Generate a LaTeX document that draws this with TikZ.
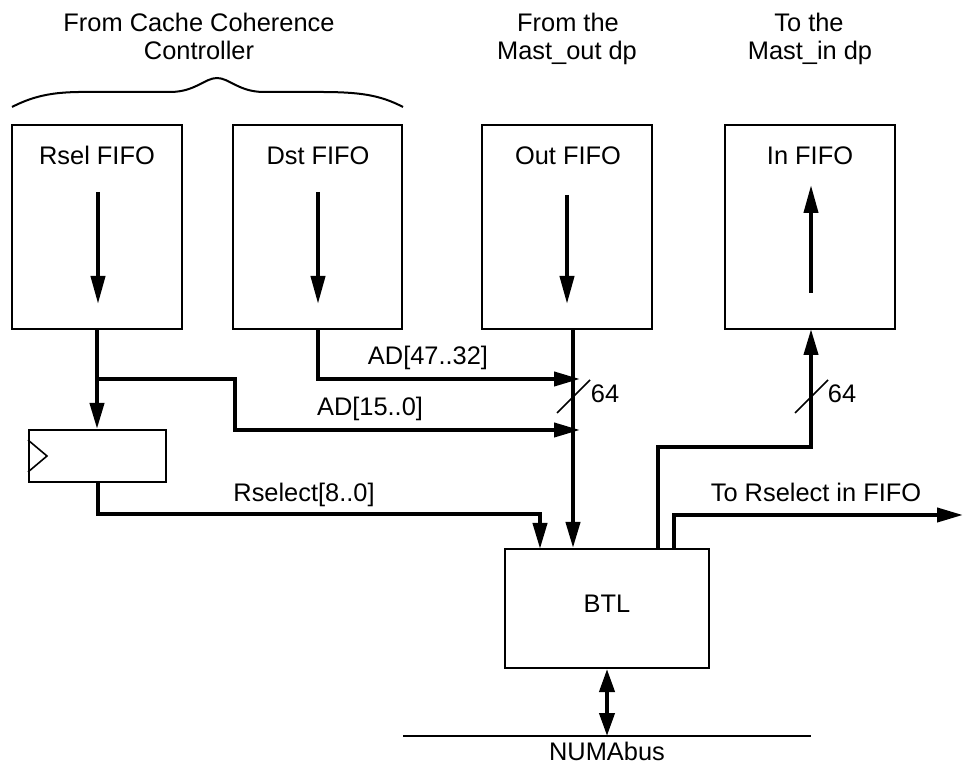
\documentclass[tikz,border=0pt]{standalone}
\usepackage{fontspec}
\setmainfont{Liberation Sans}
\usetikzlibrary{arrows.meta,fit}
\begin{document}
\begin{tikzpicture}[x=0.5pt,y=-0.5pt,
  every node/.style={font=\fontsize{12.7}{15}\selectfont},
  blockbox/.style={draw,line width=1pt,inner sep=0pt},
  txt/.style={anchor=base,inner sep=0pt},
  flow/.style={line width=2pt,-{Triangle[length=13pt,width=7pt]}},
  inner flow/.style={line width=2pt,-{Triangle[length=14pt,width=7pt]}},
  bidir/.style={line width=2pt,{Triangle[length=11.5pt,width=7.5pt]}-{Triangle[length=11.5pt,width=7.5pt]}},
  slashmark/.style={line width=0.8pt},
  thinline/.style={line width=0.8pt}]
\useasboundingbox (0,0) rectangle (963,763);

% header texts
\node[txt] (hdrA1) at (199,32) {From Cache Coherence};
\node[txt] (hdrA2) at (199,60) {Controller};
\node[txt] (hdrB1) at (568,32) {From the};
\node[txt] (hdrB2) at (567,60) {Mast\_out dp};
\node[txt] (hdrC1) at (809,32) {To the};
\node[txt] (hdrC2) at (810,60) {Mast\_in dp};

% curly brace over the two controller FIFOs
\draw[line width=1pt] (12,107) .. controls (45,90) and (70,92) .. (110,92)
  -- (170,92) .. controls (195,92) and (205,78) .. (217,78)
  .. controls (229,78) and (239,92) .. (264,92) -- (320,92)
  .. controls (360,92) and (380,95) .. (403,107);

% FIFO blocks
\node[blockbox, fit={(12,125) (182,329)}] (rsel) {};
\node[blockbox, fit={(233,125) (402,329)}] (dst) {};
\node[blockbox, fit={(482,125) (652,329)}] (outf) {};
\node[blockbox, fit={(725,125) (895,329)}] (inf) {};
\node[txt] (rsellbl) at (97,165) {Rsel FIFO};
\node[txt] (dstlbl) at (318,165) {Dst FIFO};
\node[txt] (outlbl) at (568,165) {Out FIFO};
\node[txt] (inlbl) at (810,165) {In FIFO};

% data direction inside the FIFOs
\coordinate (rselA) at (98,192);  \coordinate (rselB) at (98,304);
\coordinate (dstA) at (318,192);  \coordinate (dstB) at (318,304);
\coordinate (outA) at (567,195);  \coordinate (outB) at (567,304);
\coordinate (inA) at (811,293);   \coordinate (inB) at (811,185);
\draw[inner flow] (rselA) -- (rselB);
\draw[inner flow] (dstA) -- (dstB);
\draw[inner flow] (outA) -- (outB);
\draw[inner flow] (inA) -- (inB);

% register and BTL
\node[blockbox, fit={(29,430) (166,482)}] (reg) {};
\draw[thinline] (reg.west |- 0,440) -- (47,456) -- (reg.west |- 0,472);
\node[blockbox, fit={(505,549) (709,668)}] (btl) {};
\node[txt] (btllbl) at (607,613) {BTL};

% named tap points
\coordinate (split) at (98,379);
\coordinate (adtipA) at (580,379);
\coordinate (adtipB) at (580,430);
\coordinate (outtap) at (573,329);
\coordinate (btlinA) at (540,549);
\coordinate (btloutA) at (658,549);
\coordinate (btloutB) at (674,549);
\coordinate (infin) at (811,329);
\coordinate (rsout) at (963,515);
\coordinate (busjoin) at (607,736);
\coordinate (busL) at (403,736);
\coordinate (busR) at (811,736);

% connections
\draw[flow] (rsel.south) -- (rsel.south |- reg.north);
\draw[flow] (split) -- (235,379) -- (235,430) -- (adtipB);
\draw[flow] (dst.south) |- (adtipA);
\draw[flow] (outtap) -- (outtap |- btl.north);
\draw[flow] (reg.south) |- (540,514) -- (btlinA);
\draw[flow] (btloutA) -- (658,447) -- (811,447) -- (infin);
\draw[flow] (btloutB) |- (rsout);
\draw[bidir] (btl.south) -- (busjoin);
\draw[thinline] (busL) -- (busR);

% bus width marks
\draw[slashmark] (557,413) -- (590,380);
\draw[slashmark] (795,413) -- (828,380);

% signal labels
\node[txt] (lblA) at (428,365) {AD[47..32]};
\node[txt] (lblB) at (370,416) {AD[15..0]};
\node[txt] (lblC) at (304,502) {Rselect[8..0]};
\node[txt] (lblD) at (816,502) {To Rselect in FIFO};
\node[txt] (lblE) at (605,403) {64};
\node[txt] (lblF) at (842,403) {64};
\node[txt] (lblG) at (607,760) {NUMAbus};
\end{tikzpicture}
\end{document}
